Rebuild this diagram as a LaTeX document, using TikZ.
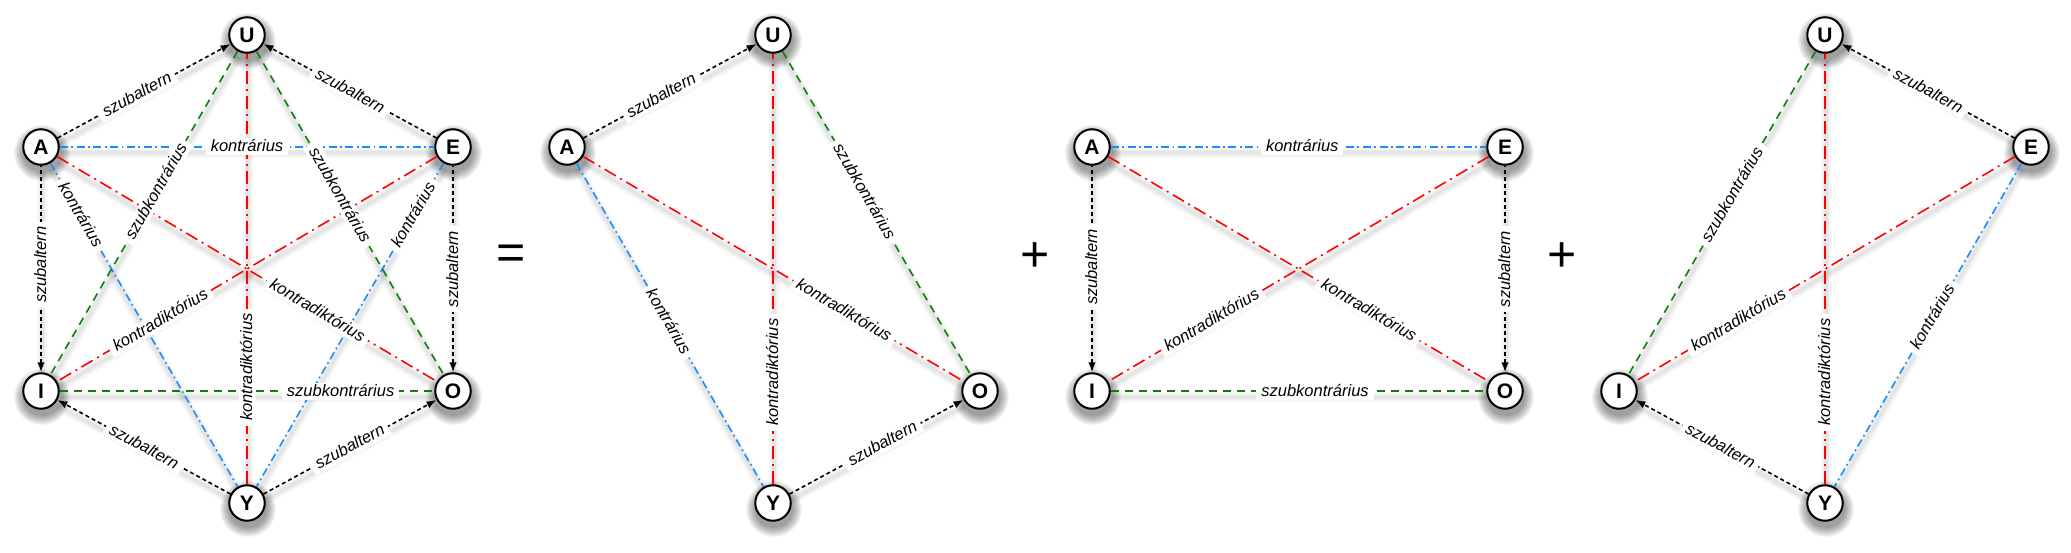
\documentclass[tikz,border=0pt]{standalone}
\usepackage{fontspec}
\setmainfont{Liberation Sans}
\usetikzlibrary{arrows.meta}
\definecolor{kblue}{RGB}{25,140,255}
\definecolor{kgreen}{RGB}{10,130,10}
\definecolor{kred}{RGB}{255,0,0}
\pgfdeclarelayer{background}
\pgfdeclarelayer{shadow}
\pgfdeclarelayer{labels}
\pgfsetlayers{background,shadow,main,labels}
\newcommand\logrel[5]{%
  \begin{pgfonlayer}{shadow}
    \foreach \w in {10,6,3}
      \draw[lineshadow, line width=\w pt] (#2) -- (#3);
  \end{pgfonlayer}
  \draw[#1] (#2) -- (#3);
  \begin{pgfonlayer}{labels}
    \path (#2) -- node[lbl, pos=#4] {#5} (#3);
  \end{pgfonlayer}%
}
\tikzset{
  term/.style={circle, draw=black, line width=2pt, fill=white, minimum size=35.5pt,
    inner sep=0pt, font=\bfseries\fontsize{21}{21}\selectfont},
  lbl/.style={sloped, fill=white, inner xsep=5pt, inner ysep=1.5pt, text height=12pt,
    text depth=2pt, font=\itshape\fontsize{16.5}{18}\selectfont},
  lineshadow/.style={draw=black, opacity=0.035, transform canvas={xshift=1pt,yshift=-6pt}},
  rel/.style={line width=1.6pt},
  sub/.style={rel, draw=black, dash pattern=on 4pt off 3pt},
  subarrow/.style={-{Latex[length=10pt,width=7.5pt]}},
  subarrowback/.style={{Latex[length=10pt,width=7.5pt]}-},
  contr/.style={rel, draw=kblue, dash pattern=on 8pt off 3.5pt on 1.8pt off 3.5pt},
  contrad/.style={rel, draw=kred, dash pattern=on 13pt off 5pt on 2pt off 5pt},
  subcontr/.style={rel, draw=kgreen, dash pattern=on 8pt off 6pt},
  sign/.style={inner sep=0pt, font=\fontsize{50}{50}\selectfont}
}
\begin{document}
\begin{tikzpicture}[x=1pt, y=-1pt]
\useasboundingbox (0,0) rectangle (2071,553);
\begin{pgfonlayer}{background}
  \fill[white] (0,0) rectangle (2071,553);
\end{pgfonlayer}

% ---------- diagram 1 ----------
\node[term] (U1) at (247,35) {U};
\node[term] (A1) at (41,147) {A};
\node[term] (E1) at (453,147) {E};
\node[term] (I1) at (41,391) {I};
\node[term] (O1) at (453,391) {O};
\node[term] (Y1) at (247,503) {Y};

% ---------- signs ----------
\node[sign] (eq) at (511,257) {=};
\node[sign] (plus1) at (1035,257) {+};
\node[sign] (plus2) at (1562,257) {+};

% ---------- diagram 2 ----------
\node[term] (U2) at (773,35) {U};
\node[term] (A2) at (567,147) {A};
\node[term] (O2) at (980,391) {O};
\node[term] (Y2) at (773,503) {Y};

% ---------- diagram 3 ----------
\node[term] (A3) at (1092,147) {A};
\node[term] (E3) at (1505,147) {E};
\node[term] (I3) at (1092,391) {I};
\node[term] (O3) at (1505,391) {O};

% ---------- diagram 4 ----------
\node[term] (U4) at (1825,35) {U};
\node[term] (E4) at (2031,147) {E};
\node[term] (I4) at (1619,391) {I};
\node[term] (Y4) at (1825,503) {Y};

% node shadows
\begin{pgfonlayer}{shadow}
\foreach \n in {U1,A1,E1,I1,O1,Y1,U2,A2,O2,Y2,A3,E3,I3,O3,U4,E4,I4,Y4}
  \foreach \r in {19,20,...,28}
    \fill[black, opacity=0.045] ([xshift=1pt,yshift=-6pt]\n.center) circle[radius=\r pt];
\end{pgfonlayer}

% ---------- relations, diagram 1 ----------
\logrel{sub,subarrow}{A1}{U1}{0.46}{szubaltern}
\logrel{sub,subarrow}{E1}{U1}{0.5}{szubaltern}
\logrel{contr}{A1}{E1}{0.5}{kontrárius}
\logrel{sub,subarrowback}{I1}{A1}{0.52}{szubaltern}
\logrel{sub,subarrowback}{O1}{E1}{0.5}{szubaltern}
\logrel{sub,subarrow}{Y1}{I1}{0.5}{szubaltern}
\logrel{sub,subarrow}{Y1}{O1}{0.5}{szubaltern}
\logrel{subcontr}{I1}{O1}{0.75}{szubkontrárius}
\logrel{contrad}{A1}{O1}{0.685}{kontradiktórius}
\logrel{contrad}{E1}{I1}{0.728}{kontradiktórius}
\logrel{contrad}{Y1}{U1}{0.272}{kontradiktórius}
\logrel{contr}{A1}{Y1}{0.16}{kontrárius}
\logrel{contr}{E1}{Y1}{0.16}{kontrárius}
\logrel{subcontr}{U1}{I1}{0.434}{szubkontrárius}
\logrel{subcontr}{U1}{O1}{0.445}{szubkontrárius}

% ---------- relations, diagram 2 ----------
\logrel{sub,subarrow}{A2}{U2}{0.45}{szubaltern}
\logrel{subcontr}{U2}{O2}{0.434}{szubkontrárius}
\logrel{contrad}{A2}{O2}{0.685}{kontradiktórius}
\logrel{contr}{A2}{Y2}{0.49}{kontrárius}
\logrel{contrad}{Y2}{U2}{0.26}{kontradiktórius}
\logrel{sub,subarrow}{Y2}{O2}{0.535}{szubaltern}

% ---------- relations, diagram 3 ----------
\logrel{contr}{A3}{E3}{0.51}{kontrárius}
\logrel{sub,subarrowback}{I3}{A3}{0.51}{szubaltern}
\logrel{sub,subarrowback}{O3}{E3}{0.5}{szubaltern}
\logrel{contrad}{E3}{I3}{0.728}{kontradiktórius}
\logrel{contrad}{A3}{O3}{0.685}{kontradiktórius}
\logrel{subcontr}{I3}{O3}{0.544}{szubkontrárius}

% ---------- relations, diagram 4 ----------
\logrel{sub,subarrow}{E4}{U4}{0.5}{szubaltern}
\logrel{subcontr}{U4}{I4}{0.444}{szubkontrárius}
\logrel{contrad}{E4}{I4}{0.728}{kontradiktórius}
\logrel{contrad}{Y4}{U4}{0.26}{kontradiktórius}
\logrel{contr}{E4}{Y4}{0.475}{kontrárius}
\logrel{sub,subarrow}{Y4}{I4}{0.51}{szubaltern}
\end{tikzpicture}
\end{document}
